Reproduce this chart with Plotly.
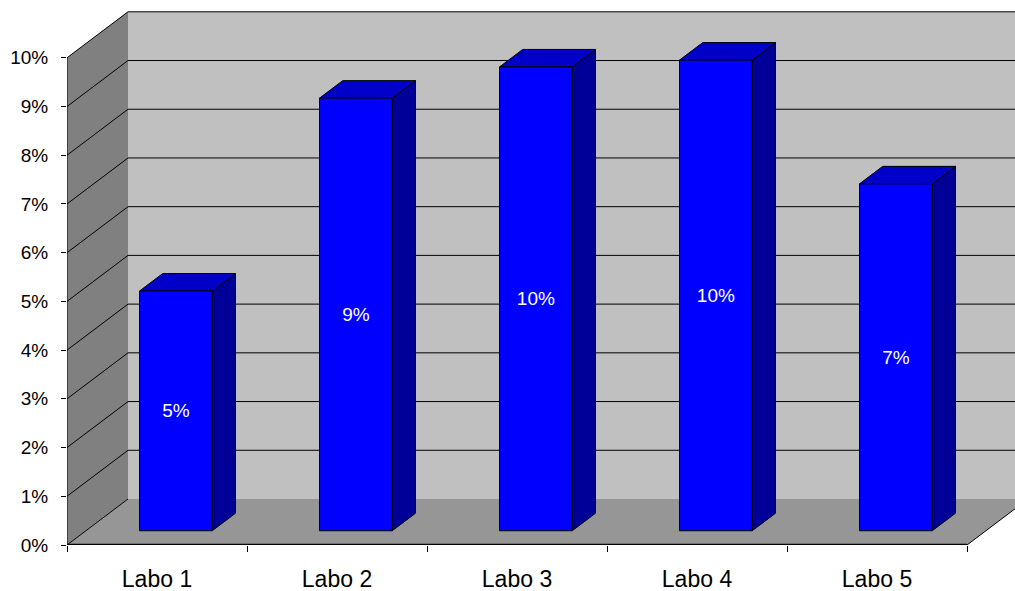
import plotly.graph_objects as go

# Chart data
labos = ["Labo 1", "Labo 2", "Labo 3", "Labo 4", "Labo 5"]
taux = [4.92, 8.88, 9.52, 9.66, 7.12]          # percent
y_ticks = list(range(0, 11))
y_tick_text = [f"{v}%" for v in y_ticks]

# Canvas / scale set-up (pseudo 3-D oblique projection)
W, H = 1015, 591
M_L, M_B = 67, 46
PX_X = 180.0          # pixels per category slot
PX_Y = 48.72          # pixels per 1 %
X0 = -0.5
x_max = X0 + (W - M_L) / PX_X
y_max = (H - M_B) / PX_Y
N = len(labos)
X1 = X0 + N

DEPTH_X = 61 / PX_X   # depth offset of the back wall (x units)
DEPTH_Y = 46 / PX_Y   # depth offset of the back wall (y units)
BAR_FRONT = 0.31      # bar front plane, fraction of full depth
BAR_DEPTH = 0.38      # bar thickness, fraction of full depth
BAR_W = 0.404

FONT = "Liberation Sans, Arial, sans-serif"
BACK_WALL = "#C0C0C0"
SIDE_WALL = "#808080"
FLOOR = "#969696"
BAR_FACE = "#0000FF"
BAR_TOP = "#0000C8"
BAR_SIDE = "#000099"


def path(points):
    return "M " + " L ".join(f"{x},{y}" for x, y in points) + " Z"


shapes = []
# walls and floor
shapes.append(dict(type="path", layer="below", fillcolor=SIDE_WALL, line=dict(width=0),
                   path=path([(X0, 0), (X0, 10), (X0 + DEPTH_X, 10 + DEPTH_Y), (X0 + DEPTH_X, DEPTH_Y)])))
shapes.append(dict(type="path", layer="below", fillcolor=BACK_WALL, line=dict(width=0),
                   path=path([(X0 + DEPTH_X, DEPTH_Y), (X0 + DEPTH_X, 10 + DEPTH_Y),
                              (X1 + DEPTH_X, 10 + DEPTH_Y), (X1 + DEPTH_X, DEPTH_Y)])))
shapes.append(dict(type="path", layer="below", fillcolor=FLOOR, line=dict(width=0),
                   path=path([(X0, 0), (X1, 0), (X1 + DEPTH_X, DEPTH_Y), (X0 + DEPTH_X, DEPTH_Y)])))

# gridlines on the back wall and the side wall
for k in y_ticks:
    if k > 0:
        shapes.append(dict(type="line", layer="below", line=dict(color="#000000", width=1),
                           x0=X0 + DEPTH_X, x1=X1 + DEPTH_X, y0=k + DEPTH_Y, y1=k + DEPTH_Y))
    shapes.append(dict(type="line", layer="below", line=dict(color="#000000", width=1),
                       x0=X0, x1=X0 + DEPTH_X, y0=k, y1=k + DEPTH_Y))
# right edge of the floor
shapes.append(dict(type="line", layer="below", line=dict(color="#000000", width=1),
                   x0=X1, x1=X1 + DEPTH_X, y0=0, y1=DEPTH_Y))

# bar positions (front plane)
bar_x = [i + BAR_FRONT * DEPTH_X for i in range(N)]
bar_base = BAR_FRONT * DEPTH_Y
dx = BAR_DEPTH * DEPTH_X
dy = BAR_DEPTH * DEPTH_Y

# side and top faces of each bar
for xc, v in zip(bar_x, taux):
    xl, xr = xc - BAR_W / 2, xc + BAR_W / 2
    top = bar_base + v
    shapes.append(dict(type="path", layer="below", fillcolor=BAR_SIDE,
                       line=dict(color="#000000", width=1),
                       path=path([(xr, bar_base), (xr + dx, bar_base + dy),
                                  (xr + dx, top + dy), (xr, top)])))
    shapes.append(dict(type="path", layer="below", fillcolor=BAR_TOP,
                       line=dict(color="#000000", width=1),
                       path=path([(xl, top), (xr, top), (xr + dx, top + dy), (xl + dx, top + dy)])))

# axis lines
shapes.append(dict(type="line", layer="above", line=dict(color="#000000", width=1),
                   x0=X0, x1=X0, y0=0, y1=10))
shapes.append(dict(type="line", layer="above", line=dict(color="#000000", width=2.5),
                   x0=X0, x1=X1, y0=0, y1=0))

fig = go.Figure()
fig.add_trace(go.Bar(
    x=bar_x, y=taux, base=bar_base, width=BAR_W,
    marker=dict(color=BAR_FACE, line=dict(color="#000000", width=1)),
    texttemplate="%{y:.0f}%", textposition="inside", insidetextanchor="middle",
    textangle=0, constraintext="none",
    textfont=dict(color="#FFFFFF", size=19, family=FONT),
    hoverinfo="skip", cliponaxis=False,
))

fig.update_layout(
    width=W, height=H,
    margin=dict(l=M_L, r=0, t=0, b=M_B, pad=0),
    paper_bgcolor="#FFFFFF", plot_bgcolor="#FFFFFF",
    showlegend=False, shapes=shapes,
    font=dict(family=FONT, color="#000000"),
    xaxis=dict(range=[X0, x_max], tickmode="array", tickvals=list(range(N)), ticktext=labos,
               ticks="", showgrid=False, zeroline=False, showline=False,
               tickfont=dict(size=23, family=FONT, color="#000000"), ticklabelstandoff=18,
               minor=dict(tickmode="linear", tick0=X0, dtick=1, ticks="outside", ticklen=6,
                          tickcolor="#000000", tickwidth=1, showgrid=False),
               fixedrange=True),
    yaxis=dict(range=[0, y_max], tickmode="array", tickvals=y_ticks, ticktext=y_tick_text,
               ticks="outside", ticklen=5, tickcolor="#000000", tickwidth=1,
               showgrid=False, zeroline=False, showline=False,
               tickfont=dict(size=19, family=FONT, color="#000000"), ticklabelstandoff=9,
               fixedrange=True),
)

fig.write_html("out.html")
